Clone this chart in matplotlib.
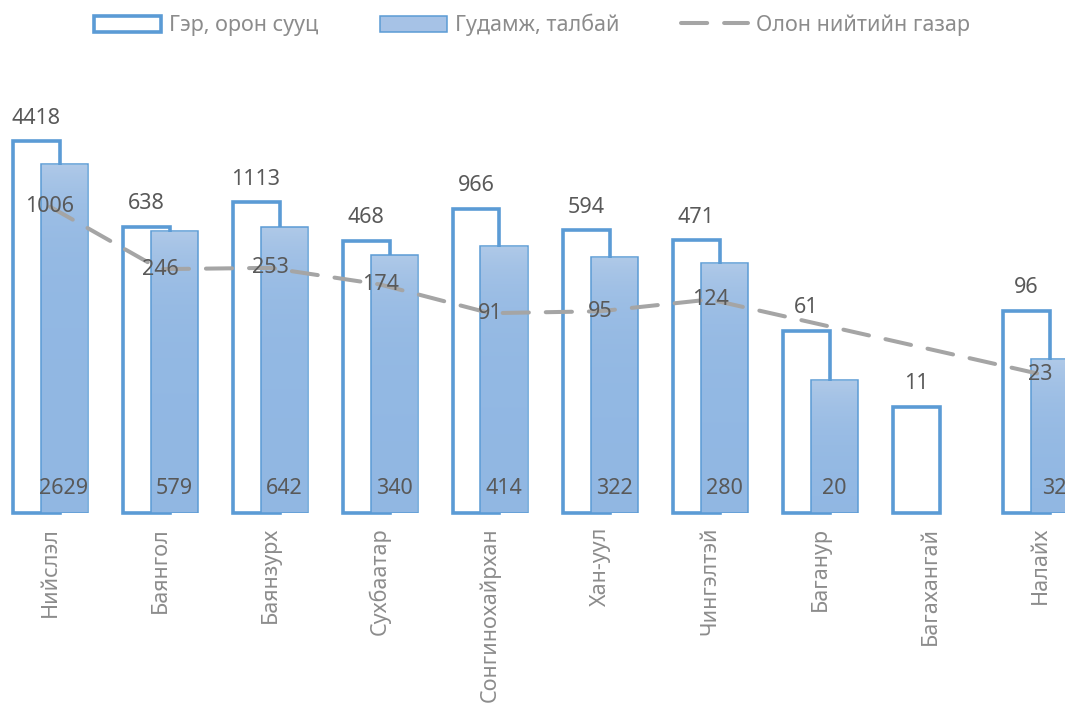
import numpy as np
import matplotlib.pyplot as plt
from matplotlib.patches import Patch
from matplotlib.lines import Line2D

plt.rcParams['font.family'] = ['Noto Sans', 'DejaVu Sans']
plt.rcParams['font.weight'] = 'light'

districts = ["Нийслэл", "Баянгол", "Баянзурх", "Сухбаатар", "Сонгинохайрхан",
             "Хан-уул", "Чингэлтэй", "Баганур", "Багахангай", "Налайх"]
ger = [4418, 638, 1113, 468, 966, 594, 471, 61, 11, 96]
street = [2629, 579, 642, 340, 414, 322, 280, 20, np.nan, 32]
public = [1006, 246, 253, 174, 91, 95, 124, np.nan, np.nan, 23]

series_names = ["Гэр, орон сууц", "Гудамж, талбай", "Олон нийтийн газар"]

blue_edge = "#5b9bd5"
top_col = np.array([0.69, 0.79, 0.91])
bot_col = np.array([0.57, 0.72, 0.89])
line_col = "#a5a5a5"
val_col = "#595959"
lab_col = "#8c8c8c"

W, H = 1065, 709
fig = plt.figure(figsize=(W / 100, H / 100), dpi=100)
ax = fig.add_axes([0, (H - 513) / H, 1, (513 - 60) / H])
ax.set_yscale("log")
ymax = 10 ** ((513 - 60) / 102.0)
ax.set_ylim(1, ymax)
ax.set_xlim(-50 / 110, (W - 50) / 110)

x = np.arange(len(districts))
bw = 47 / 110
off = 14 / 110
base = 1.0

# outlined bars
ger_arr = np.array(ger, dtype=float)
ax.bar(x - off, ger_arr - base, bottom=base, width=bw, facecolor="white",
       edgecolor=blue_edge, linewidth=2.6, zorder=2, clip_on=False)

# gradient bars
street_arr = np.array(street, dtype=float)
grad = np.linspace(0, 1, 256)[:, None, None]
img = top_col[None, None, :] * (1 - grad) + bot_col[None, None, :] * grad
for xi, v in zip(x, street_arr):
    if np.isnan(v):
        continue
    r = ax.bar(xi + off, v - base, bottom=base, width=bw, facecolor="none",
               edgecolor=blue_edge, linewidth=1.1, zorder=4)[0]
    im = ax.imshow(img, extent=(xi + off - bw / 2, xi + off + bw / 2, base, v),
                   aspect="auto", zorder=3, origin="upper")
    im.set_clip_path(r)

# dashed line (gaps connected)
pub = np.array(public, dtype=float)
ok = ~np.isnan(pub)
ax.plot(x[ok], pub[ok], color=line_col, lw=2.9, dashes=(6.5, 4.2),
        dash_capstyle="round", zorder=5)

fs = 15.5
for xi, v in zip(x, ger):
    ax.annotate(f"{v}", (xi - off, v), xytext=(0, 16.5), textcoords="offset points",
                ha="center", va="center", color=val_col, fontsize=fs, zorder=6)
for xi, v in zip(x, street_arr):
    if np.isnan(v):
        continue
    ax.annotate(f"{int(v)}", (xi + off, base), xytext=(0, 17.3), textcoords="offset points",
                ha="center", va="center", color=val_col, fontsize=fs, zorder=6)
for xi, v in zip(x, pub):
    if np.isnan(v):
        continue
    ax.annotate(f"{int(v)}", (xi, v), ha="center", va="center",
                color=val_col, fontsize=fs, zorder=6)

ax.set_xticks(x)
ax.set_xticklabels(districts, rotation=90, color=lab_col, fontsize=fs, va="top", ha="center")
ax.tick_params(axis="x", length=0, pad=10)
ax.set_yticks([])
ax.minorticks_off()
ax.tick_params(axis="y", which="both", left=False, labelleft=False)
for s in ax.spines.values():
    s.set_visible(False)

handles = [
    Patch(facecolor="white", edgecolor=blue_edge, linewidth=2.6),
    Patch(facecolor="#a6c2e6", edgecolor=blue_edge, linewidth=1.1),
    Line2D([0], [0], color=line_col, lw=2.9, dashes=(6.5, 4.2), dash_capstyle="round"),
]
fig.legend(handles, series_names, loc="center", bbox_to_anchor=(532 / W, 1 - 25 / H),
           ncol=3, frameon=False, fontsize=fs, labelcolor=lab_col,
           handlelength=3.1, handleheight=0.75, handletextpad=0.35, columnspacing=2.9)

fig.savefig("out.png", dpi=100)
